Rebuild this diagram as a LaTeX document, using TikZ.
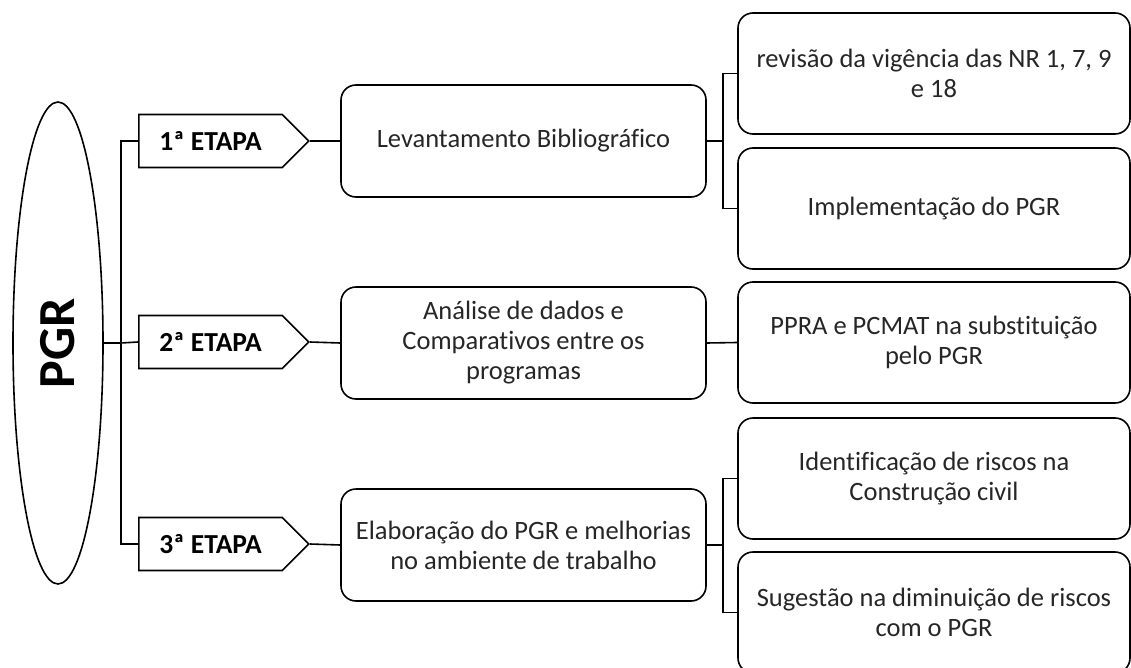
\documentclass[tikz,border=0pt]{standalone}
\usepackage{fontspec}
\setmainfont{Carlito}[Ligatures={NoCommon}]
\usetikzlibrary{calc, positioning, shapes.geometric, shapes.symbols}

\tikzset{
	txt/.style={font=\fontsize{26.5}{30}\selectfont, text=black!85},
	etapa/.style={draw, signal, signal to=east, signal pointer angle=90, minimum width=170pt, minimum height=53pt, inner sep=0pt, anchor=west, font=\fontsize{27.5}{29}\selectfont\bfseries},
	midbox/.style={draw, txt, rounded corners=15pt, minimum width=365pt, minimum height=112pt, align=center},
	sidebox/.style={draw, txt, rounded corners=15pt, minimum width=392pt, minimum height=121pt, align=center}
}

\begin{document}
\begin{tikzpicture}[x=1pt, y=-1pt, line width=1.6pt]
	\useasboundingbox (0,0) rectangle (1131,668);

	\node[draw, ellipse, minimum width=90pt, minimum height=482pt, inner sep=0pt, font=\fontsize{52}{52}\selectfont\bfseries] (pgr) at (58,343) {\rotatebox{90}{PGR}};
	\coordinate (trunk) at (121,343);

	\node[etapa] (e1) at (138,141) {1ª ETAPA};
	\node[etapa] (e2) at (138,342) {2ª ETAPA};
	\node[etapa] (e3) at (138,544) {3ª ETAPA};

	\node[midbox] (m1) at (523.5,141) {Levantamento Bibliográfico};
	\node[midbox] (m2) at (523.5,343) {Análise de dados e\\Comparativos entre os\\programas};
	\node[midbox] (m3) at (523.5,545) {Elaboração do PGR e melhorias\\no ambiente de trabalho};

	\coordinate (br1) at (723,141);
	\coordinate (br3) at (723,545);

	\node[sidebox] (s1) at (934,73.5) {revisão da vigência das NR 1, 7, 9\\e 18};
	\node[sidebox] (s2) at (934,208.5) {Implementação do PGR};
	\node[sidebox] (s3) at (934,342.5) {PPRA e PCMAT na substituição\\pelo PGR};
	\node[sidebox] (s4) at (934,478.5) {Identificação de riscos na\\Construção civil};
	\node[sidebox] (s5) at (934,612.5) {Sugestão na diminuição de riscos\\com o PGR};

	\draw (pgr.east) -- (trunk);
	\draw (e1.west) -| (trunk) |- (e3.west);
	\draw (trunk) -- (e2.west);

	\foreach \i in {1,2,3} {
			\draw (e\i.east) -- (m\i.west);
		}

	\draw (m1.east) -- (br1);
	\draw (s1.west) -| (br1) |- (s2.west);
	\draw (m2.east) -- (s3.west);
	\draw (m3.east) -- (br3);
	\draw (s4.west) -| (br3) |- (s5.west);
\end{tikzpicture}
\end{document}
